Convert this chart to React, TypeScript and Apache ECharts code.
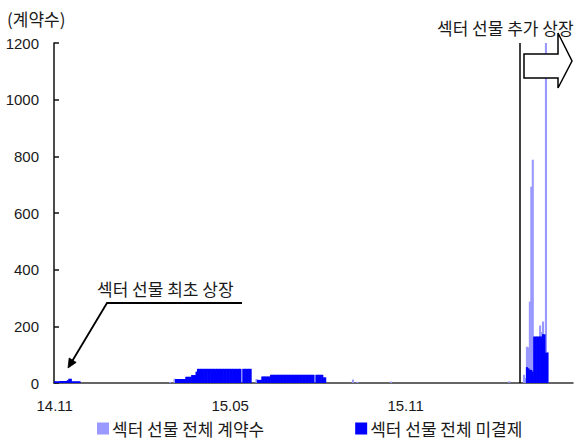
import React, { useEffect, useRef } from 'react';
import * as echarts from 'echarts';

// Trading days since the first sector futures listing (one category per day)
const DAY_COUNT = 355;
const dayCategories: string[] = Array.from({ length: DAY_COUNT }, (_, i) => String(i));

// Labelled days on the horizontal axis
const tickIndices = [0, 120, 240];
const tickLabels = ['14.11', '15.05', '15.11'];

// Open interest as plateaus: [first day, last day, contracts]
const openInterestRuns: [number, number, number][] = [
  [0, 3, 6], [4, 8, 7], [9, 9, 10], [10, 11, 15], [12, 17, 6],
  [83, 89, 14], [90, 93, 22], [94, 96, 28], [97, 97, 40], [98, 127, 50], [129, 134, 50],
  [139, 141, 11], [142, 147, 23], [148, 177, 29], [179, 183, 29], [184, 185, 20],
  [323, 323, 56], [324, 324, 52], [325, 325, 47], [326, 326, 46], [327, 327, 40],
  [328, 333, 164], [334, 335, 172], [336, 337, 107],
];

// Daily traded contracts: [day, contracts]
const volumeDays: [number, number][] = [
  [79, 4], [82, 15], [138, 14], [204, 12], [207, 4], [230, 5], [311, 6],
  [321, 29], [322, 17], [323, 128], [324, 126], [325, 287], [326, 693], [327, 788],
  [328, 150], [329, 140], [330, 155], [331, 160], [332, 203], [333, 180], [334, 217],
  [335, 150], [336, 1260], [337, 110],
];

// Day on which additional sector futures were listed
const additionalListingDay = 318;

const VOLUME_NAME = '섹터 선물 전체 계약수';
const OI_NAME = '섹터 선물 전체 미결제';

const KR_FONT = '"Noto Sans CJK KR", "Noto Sans", sans-serif';
const NUM_FONT = '"Liberation Sans", Arial, sans-serif';
const TEXT_COLOR = '#1a1a1a';

function expandRuns(runs: [number, number, number][]): (number | null)[] {
  const out: (number | null)[] = new Array(DAY_COUNT).fill(null);
  runs.forEach(([a, b, v]) => {
    for (let i = a; i <= b; i++) out[i] = v;
  });
  return out;
}

function expandDays(days: [number, number][]): (number | null)[] {
  const out: (number | null)[] = new Array(DAY_COUNT).fill(null);
  days.forEach(([d, v]) => {
    out[d] = v;
  });
  return out;
}

export default function App() {
  const ref = useRef<HTMLDivElement>(null);

  useEffect(() => {
    if (!ref.current) return;
    const chart = echarts.init(ref.current, undefined, { renderer: 'svg' });

    const isTick = (index: number) => tickIndices.includes(index);

    chart.setOption({
      animation: false,
      backgroundColor: '#ffffff',
      title: {
        text: '(계약수)',
        left: 7,
        top: 10,
        padding: 0,
        textStyle: { fontFamily: KR_FONT, fontSize: 17, fontWeight: 'normal', color: TEXT_COLOR },
      },
      grid: { left: 54, right: 12, top: 43, bottom: 58, containLabel: false },
      legend: {
        data: [VOLUME_NAME, OI_NAME],
        left: 97,
        top: 420,
        padding: 0,
        icon: 'rect',
        itemWidth: 12,
        itemHeight: 12,
        itemGap: 91,
        textStyle: { fontFamily: KR_FONT, fontSize: 17, color: TEXT_COLOR, padding: [0, 0, 0, -2] },
      },
      xAxis: {
        type: 'category',
        data: dayCategories,
        boundaryGap: true,
        axisLine: { lineStyle: { color: '#333', width: 1.5 } },
        axisTick: {
          inside: true,
          length: 5,
          alignWithLabel: true,
          interval: (index: number) => isTick(index),
          lineStyle: { color: '#111', width: 1.5 },
        },
        axisLabel: {
          interval: (index: number) => isTick(index),
          formatter: (_v: string, index: number) => tickLabels[tickIndices.indexOf(index)] ?? '',
          margin: 15,
          fontFamily: NUM_FONT,
          fontSize: 15,
          color: TEXT_COLOR,
        },
        splitLine: { show: false },
      },
      yAxis: {
        type: 'value',
        min: 0,
        max: 1200,
        interval: 200,
        axisLine: { show: true, lineStyle: { color: '#111', width: 1.5 } },
        axisTick: { show: true, inside: true, length: 5, lineStyle: { color: '#111', width: 1.5 } },
        axisLabel: {
          margin: 15,
          fontFamily: NUM_FONT,
          fontSize: 15,
          color: TEXT_COLOR,
          formatter: (v: number) => String(v),
        },
        splitLine: { show: false },
      },
      series: [
        {
          name: VOLUME_NAME,
          type: 'bar',
          data: expandDays(volumeDays),
          barGap: '-100%',
          barWidth: 2.1,
          itemStyle: { color: '#9999ff' },
          clip: true,
          z: 2,
        },
        {
          name: OI_NAME,
          type: 'bar',
          data: expandRuns(openInterestRuns),
          barGap: '-100%',
          barWidth: 2.1,
          itemStyle: { color: '#0000ff' },
          clip: true,
          z: 3,
          markLine: {
            silent: true,
            symbol: ['none', 'none'],
            label: { show: false },
            lineStyle: { color: '#000', width: 1.5, type: 'solid' },
            data: [{ xAxis: String(additionalListingDay) }],
          },
        },
      ],
      graphic: [
        {
          type: 'text',
          z: 100,
          x: 437,
          y: 27.5,
          style: {
            text: '섹터 선물 추가 상장',
            fontFamily: KR_FONT,
            fontSize: 17,
            fill: TEXT_COLOR,
            verticalAlign: 'middle',
          },
        },
        {
          type: 'polygon',
          z: 100,
          shape: {
            points: [
              [524, 54], [558, 54], [558, 33], [572, 61], [558, 88], [558, 78], [524, 78],
            ],
          },
          style: { fill: '#ffffff', stroke: '#000', lineWidth: 1.5 },
        },
        {
          type: 'text',
          z: 100,
          x: 97,
          y: 288,
          style: {
            text: '섹터 선물 최초 상장',
            fontFamily: KR_FONT,
            fontSize: 17,
            fill: TEXT_COLOR,
            verticalAlign: 'middle',
          },
        },
        {
          type: 'polyline',
          z: 100,
          shape: { points: [[242, 303], [107, 303], [71.5, 362.2]] },
          style: { stroke: '#000', lineWidth: 1.8, fill: null },
        },
        {
          type: 'polygon',
          z: 100,
          shape: { points: [[68, 368], [76.2, 362.4], [69.2, 358.0]] },
          style: { fill: '#000', stroke: '#000', lineWidth: 0.8 },
        },
      ],
    });

    return () => chart.dispose();
  }, []);

  return (
    <div
      ref={ref}
      style={{ position: 'fixed', left: 0, top: 0, width: 585, height: 441, background: '#fff' }}
    />
  );
}
